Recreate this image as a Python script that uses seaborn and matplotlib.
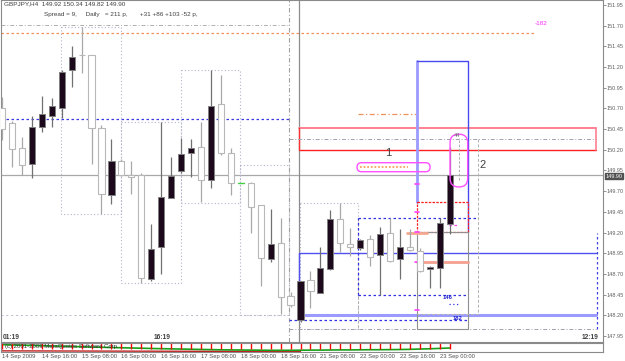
import numpy as np
import pandas as pd
import matplotlib
matplotlib.use("Agg")
import matplotlib.pyplot as plt
import seaborn as sns
from matplotlib.patches import FancyBboxPatch

# ---------------- data ----------------
bars = list(range(46))
opens = [150.70, 150.52, 150.22, 150.03, 150.48, 150.61, 150.71, 151.16, 151.35, 151.34,
         150.46, 149.65, 150.07, 149.90, 149.90, 148.64, 149.03, 149.62, 149.94, 150.16,
         150.23, 149.84, 150.75, 150.16, 149.80, 149.80, 149.53, 148.88, 149.07, 148.43,
         148.14, 148.63, 148.47, 148.76, 149.36, 149.06, 149.01, 149.12, 148.93, 149.20,
         148.88, 149.03, 148.98, 148.76, 148.77, 149.30]
highs = [150.84, 150.55, 150.36, 150.61, 150.85, 150.82, 151.16, 151.46, 151.68, 151.34,
         150.50, 150.33, 150.09, 150.07, 149.92, 149.30, 150.53, 150.11, 150.34, 150.33,
         150.54, 151.16, 151.10, 150.22, 149.81, 149.81, 149.53, 149.48, 149.37, 148.48,
         148.62, 148.74, 149.03, 149.47, 149.56, 149.26, 149.12, 149.17, 149.27, 149.38,
         149.24, 149.24, 149.01, 148.79, 149.37, 150.23]
lows = [150.32, 149.99, 149.90, 149.86, 150.42, 150.48, 150.58, 150.96, 151.13, 150.03,
        149.42, 149.54, 149.88, 149.66, 148.59, 148.62, 148.70, 149.62, 149.92, 149.87,
        149.57, 149.74, 150.14, 149.65, 149.79, 149.19, 148.55, 148.85, 148.22, 148.30,
        148.12, 148.29, 148.47, 148.75, 148.96, 148.92, 148.99, 148.80, 148.45, 148.85,
        148.64, 148.98, 148.72, 148.53, 148.53, 149.18]
closes = [150.45, 150.21, 150.02, 150.48, 150.63, 150.73, 151.14, 151.32, 151.34, 150.46,
          149.66, 150.06, 149.90, 149.87, 148.65, 149.00, 149.63, 149.88, 150.15, 150.22,
          149.83, 150.73, 150.16, 149.80, 149.80, 149.51, 148.89, 149.06, 148.42, 148.33,
          148.62, 148.49, 148.77, 149.36, 149.07, 149.03, 149.11, 148.91, 149.18, 148.86,
          149.02, 148.99, 148.74, 148.78, 149.31, 149.90]

current_price = 149.90
price_ticks = [151.95, 151.70, 151.45, 151.20, 150.95, 150.70, 150.45, 150.20, 149.95,
               149.70, 149.45, 149.20, 148.95, 148.70, 148.45, 148.20, 147.95]
date_labels = ["14 Sep 2009", "14 Sep 16:00", "15 Sep 08:00", "16 Sep 00:00", "16 Sep 16:00",
               "17 Sep 08:00", "18 Sep 00:00", "18 Sep 16:00", "21 Sep 08:00", "22 Sep 00:00",
               "22 Sep 16:00", "23 Sep 00:00"]
date_label_bars = [0, 4, 8, 12, 16, 20, 24, 28, 32, 36, 40, 44]
header_line1 = "GBPJPY,H4  149.92 150.34 149.82 149.90"
header_line2 = "Spread = 9,     Daily   = 211 p,       +31 +86 +103 -52 p,"
time_labels = ["01:19", "16:19", "12:19"]
time_label_bars = [0.1, 15.2, 58.3]

# daily range boxes: start bar, end bar, high, low
day_start = [5.93, 11.96, 17.99, 23.92, 29.95]
day_end = [11.96, 17.99, 23.92, 28.87, 35.78]
day_high = [151.68, 150.53, 151.16, 150.02, 149.56]
day_low = [149.42, 148.59, 149.56, 148.20, 148.04]

# level lines
orange_top_level = 151.61
gray_top_level = 151.71
blue_left_level = 150.57
gray_left_low = 148.20
zone_red_top, zone_red_bot = 150.46, 150.20
mid_dashdot_level = 150.33
low_dashdot_level = 148.04
zone_blue_top, zone_blue_bot = 148.95, 148.20
range_hi, range_lo = 149.38, 148.44
blue_dash_low = 148.14
orange_short_level = 150.63
proj_top = 151.27
red_box_top, red_box_bot = 149.57, 149.21
salmon_1, salmon_2 = 149.19, 148.84
gray_box_bot = 148.04
gray_ext_bot = 148.22
magenta_marks = [149.79, 149.45, 149.21, 148.84, 148.26]
box1_lo, box1_hi = 149.935, 150.044
box2_lo, box2_hi = 149.751, 150.388

osc_green = [0.78, 0.74, 0.72, 0.70, 0.66, 0.63, 0.62, 0.58, 0.55, 0.52, 0.50, 0.47, 0.45,
             0.42, 0.40, 0.37, 0.35, 0.33, 0.31, 0.29, 0.27, 0.25, 0.23, 0.22, 0.21, 0.20,
             0.19, 0.18, 0.18, 0.18, 0.19, 0.20, 0.20, 0.21, 0.22, 0.22, 0.23, 0.24, 0.24,
             0.25, 0.26, 0.28, 0.31, 0.34, 0.38, 0.42]

# ---------------- figure ----------------
sns.set_style("white")
plt.rcParams['font.family'] = ['Liberation Sans', 'DejaVu Sans']

W, H = 625, 361
fig = plt.figure(figsize=(W / 100, H / 100), dpi=100)
fig.patch.set_facecolor("white")

ax = fig.add_axes([1 / W, 19 / H, 602 / W, 342 / H])
ax.set_facecolor("white")
ax.set_xlim(-0.1, 60.4)
ax.set_ylim(147.8775, 152.01)

df = pd.DataFrame({"bar": bars, "open": opens, "high": highs, "low": lows, "close": closes})

LAV = "#b4b4cc"

def hline(y, x0, x1, **kw):
    ax.plot([x0, x1], [y, y], **kw)

def vline(x, y0, y1, **kw):
    ax.plot([x, x], [y0, y1], **kw)

dotted = (0, (1, 2))
dashdot = (0, (4, 2, 1, 2))
dashed = (0, (3, 2))

# background level lines
hline(orange_top_level, -0.1, 53.57, color="#f0905a", lw=0.9, ls=(0, (2, 2)))
hline(gray_top_level, -0.1, 28.87, color="#b0b0b0", lw=0.7, ls=dashdot)
hline(blue_left_level, -0.1, 28.87, color="#3a3ae0", lw=0.9, ls=(0, (2, 2)))
hline(gray_left_low, -0.1, 28.87, color="#b8b8c8", lw=0.7, ls=(0, (2, 3)))
hline(current_price, -0.1, 60.4, color="#a8a8a8", lw=0.9)

# daily boxes
for s, e, hi, lo in zip(day_start, day_end, day_high, day_low):
    ax.plot([s, e, e, s, s], [hi, hi, lo, lo, hi], color=LAV, lw=0.8, ls=dotted)

# vertical separators
vline(28.87, 147.8775, 152.01, color="#a0a0a0", lw=0.8, ls=dashdot)
vline(29.88, 147.8775, 152.01, color="#8c8c8c", lw=0.9)
vline(35.78, range_hi, low_dashdot_level, color="#b0b0b0", lw=0.7, ls=dashed)

# red zone
hline(zone_red_top, 29.88, 59.70, color="#ff8090", lw=1.4)
hline(zone_red_bot, 29.88, 59.70, color="#ff2020", lw=1.0)
vline(29.88, zone_red_bot, zone_red_top, color="#ff3030", lw=1.0)
vline(59.70, zone_red_bot, zone_red_top, color="#ff8090", lw=1.2)
hline(mid_dashdot_level, 28.87, 59.70, color="#a0a0b0", lw=0.7, ls=dashdot)
hline(low_dashdot_level, 28.87, 59.70, color="#a0a0b0", lw=0.7, ls=dashdot)

# blue zone
hline(zone_blue_top, 29.88, 59.70, color="#5050f0", lw=1.0)
hline(zone_blue_bot, 29.88, 59.70, color="#9a9aff", lw=2.2)
vline(29.88, zone_blue_bot, zone_blue_top, color="#5050f0", lw=1.0)
vline(59.80, low_dashdot_level, 149.20, color="#4040e0", lw=0.9, ls=(0, (2, 2)))

# day range (blue dashed)
ax.plot([35.78, 47.81], [range_hi, range_hi], color="#3030e0", lw=0.9, ls=(0, (2, 2)))
ax.plot([35.78, 46.80], [range_lo, range_lo], color="#3030e0", lw=0.9, ls=(0, (2, 2)))
vline(35.78, range_lo, range_hi, color="#3030e0", lw=0.9, ls=(0, (2, 2)))
hline(blue_dash_low, 28.87, 46.80, color="#3030e0", lw=0.9, ls=(0, (2, 2)))
hline(orange_short_level, 35.78, 41.61, color="#f0905a", lw=0.9, ls=dashdot)

# projection boxes
ax.plot([41.74, 41.74], [red_box_top, proj_top], color="#9a9aff", lw=2.0)
ax.plot([41.74, 46.80, 46.80], [proj_top, proj_top, red_box_bot], color="#4848f0", lw=1.0)
ax.plot([41.74, 46.80, 46.80, 41.74, 41.74],
        [red_box_top, red_box_top, red_box_bot, red_box_bot, red_box_top],
        color="#ff2020", lw=0.9, ls=(0, (2, 1)))
ax.plot([41.74, 41.74, 46.80, 46.80], [red_box_bot, gray_box_bot, gray_box_bot, red_box_bot],
        color="#909090", lw=0.8)
hline(red_box_bot - 0.005, 41.74, 46.80, color="#909090", lw=0.8)
vline(47.81, mid_dashdot_level, gray_ext_bot, color="#b0b0b0", lw=0.7, ls=dashed)
hline(gray_ext_bot, 41.74, 47.81, color="#b8b8b8", lw=0.7, ls=dashed)
hline(salmon_1, 40.70, 42.71, color="#f4a890", lw=2.0)
hline(salmon_2, 41.74, 46.80, color="#f4a090", lw=2.0)
for m in magenta_marks:
    hline(m, 41.55, 41.95, color="#ff40ff", lw=1.2)
hline(149.40 - 0.11, 44.9, 45.9, color="#ff40ff", lw=0.9, ls=(0, (2, 2)))
hline(148.34, 44.9, 45.9, color="#3030e0", lw=0.9, ls=(0, (1, 2)))

# candles
bull = df[df.close > df.open]
bear = df[df.close < df.open]
doji = df[df.close == df.open]
ax.vlines(bear.bar, bear.low, bear.high, color="#a8a8a8", lw=0.9, zorder=3)
ax.vlines(bull.bar, bull.low, bull.high, color="#707070", lw=0.9, zorder=3)
ax.bar(bear.bar, bear.open - bear.close, bottom=bear.close, width=0.62,
       facecolor="white", edgecolor="#b8b8b8", lw=0.8, zorder=4)
ax.bar(bull.bar, bull.close - bull.open, bottom=bull.open, width=0.62,
       facecolor="#1c0a1c", edgecolor="#808080", lw=0.7, zorder=4)
for _, r in doji.iterrows():
    ax.plot([r.bar - 0.3, r.bar + 0.3], [r.close, r.close], color="#40d040", lw=1.0, zorder=4)

# rounded pink boxes
asp = (1 / 82.75) / (1 / 9.95)
b1 = FancyBboxPatch((35.68, box1_lo), 43.02 - 35.68, box1_hi - box1_lo,
                    boxstyle="round,pad=0,rounding_size=0.45", mutation_aspect=asp,
                    fc="none", ec="#ff50ff", lw=1.0, zorder=5)
ax.add_patch(b1)
hline((box1_lo + box1_hi) / 2, 36.0, 40.8, color="#f8a060", lw=1.3, ls=(0, (1, 1)), zorder=5)
b2 = FancyBboxPatch((45.03, box2_lo), 46.80 - 45.03, box2_hi - box2_lo,
                    boxstyle="round,pad=0,rounding_size=0.85", mutation_aspect=asp,
                    fc="none", ec="#ff50ff", lw=1.0, zorder=5)
ax.add_patch(b2)
vline(45.9, box2_lo + 0.08, box2_hi - 0.05, color="#a0a0a0", lw=0.6, ls=dashed, zorder=5)

ax.text(38.8, 150.10, "1", fontsize=8, color="#404040", ha="center", va="bottom", zorder=6)
ax.text(48.3, 150.02, "2", fontsize=8, color="#404040", ha="center", va="center", zorder=6)
ax.text(45.7, 150.37, "44", fontsize=4.2, color="#707070", ha="center", va="center", zorder=6)
ax.text(44.8, 148.41, "146", fontsize=4.2, color="#2020d0", ha="center", va="center",
        fontweight="bold", zorder=6)
ax.text(45.75, 148.16, "182", fontsize=4.2, color="#2020d0", ha="center", va="center",
        fontweight="bold", zorder=6)
ax.text(54.2, 151.73, "-182", fontsize=4.6, color="#ff30ff", ha="center", va="center", zorder=6)

# header
ax.text(0.25, 151.99, header_line1, fontsize=4.6, color="#404040", va="top", ha="left")
ax.text(4.2, 151.87, header_line2, fontsize=4.6, color="#404040", va="top", ha="left")

# time labels
for t, b in zip(time_labels, time_label_bars):
    ax.text(b, 147.935, t, fontsize=4.8, color="#404040", fontweight="bold",
            ha="left", va="center")

# axes styling
ax.set_xticks([])
ax.yaxis.tick_right()
ax.set_yticks(price_ticks)
ax.set_yticklabels([f"{p:.2f}" for p in price_ticks])
ax.tick_params(axis="y", length=2.0, width=0.6, colors="#808080", labelsize=4.0,
               labelcolor="#606060", pad=0.8, direction="out")
for s in ax.spines.values():
    s.set_color("#8a8a8a")
    s.set_linewidth(0.8)

ax.text(1.0045, current_price - 0.02, f"{current_price:.2f}", transform=ax.get_yaxis_transform(),
        fontsize=4.0, color="white", ha="left", va="center", zorder=10,
        bbox=dict(boxstyle="square,pad=0.12", fc="#505050", ec="#505050"))

# ---------------- indicator sub-window ----------------
ax2 = fig.add_axes([1 / W, 9 / H, 602 / W, 9.5 / H])
ax2.set_facecolor("white")
ax2.set_xlim(-0.1, 60.4)
ax2.set_ylim(0, 1)
osc = pd.DataFrame({"bar": bars, "green": osc_green})
ax2.plot([0, 30], [0.12, 0.05], color="#c02020", lw=1.0)
sns.lineplot(data=osc, x="bar", y="green", ax=ax2, color="#18a018", lw=1.2)
ax2.vlines(bars, 0.35, 1.0, color="#ff0000", lw=1.0)
ax2.text(0.3, 0.62, "(c) 2001-2009 MetaQuotes Software Corp.", fontsize=4.3,
         color="#303030", va="center", ha="left")
ax2.set_xticks([])
ax2.set_yticks([])
ax2.set_xlabel("")
ax2.set_ylabel("")
for s in ax2.spines.values():
    s.set_color("#8a8a8a")
    s.set_linewidth(0.8)

# date labels
for lab, b in zip(date_labels, date_label_bars):
    ax2.text(b, -0.25, lab, fontsize=4.2, color="#505050", ha="left", va="top",
             clip_on=False)

fig.savefig("out.png", dpi=100, facecolor="white")
